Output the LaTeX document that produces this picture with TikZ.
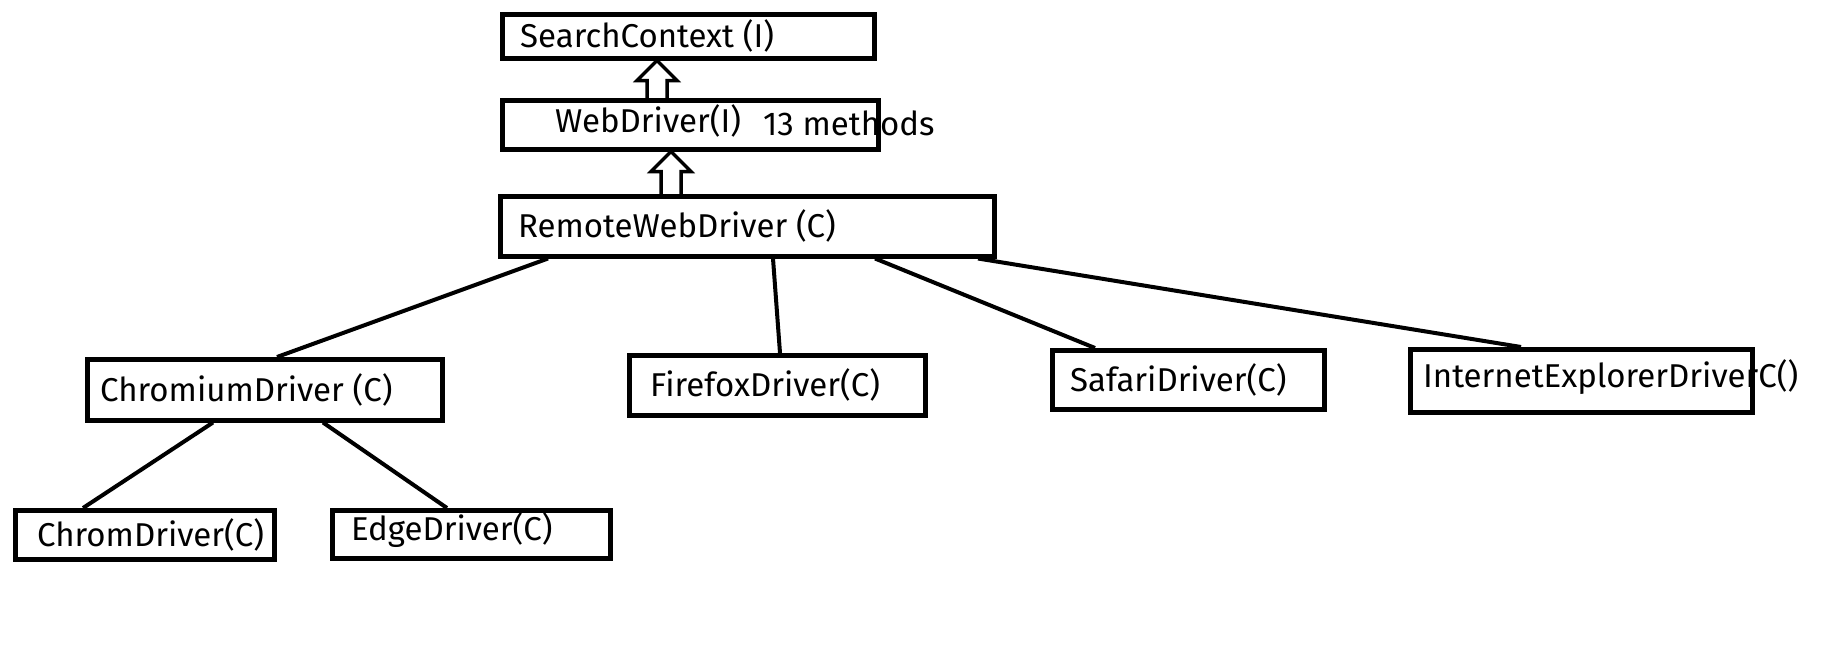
\documentclass[tikz,border=0pt]{standalone}
\usepackage{fontspec}
\setmainfont{Fira Sans}
\usetikzlibrary{positioning, calc}
\tikzstyle{box} = [rectangle, draw=black, line width=4.5pt, anchor=north west, inner sep=0]
\tikzstyle{txt} = [inner sep=0, anchor=west, font=\fontsize{33}{38}\selectfont]
\tikzstyle{line} = [line width=4pt]
\tikzstyle{hollow} = [line width=3.5pt, line join=miter]
% open "inherits" arrow: #1 = base point, #2 = tip point
\newcommand{\hollowarrow}[2]{\draw[hollow] ($(#1)+(-10,0)$) -- ($(#2)+(-10,20)$) -- ($(#2)+(-20,20)$) -- (#2) -- ($(#2)+(20,20)$) -- ($(#2)+(10,20)$) -- ($(#1)+(10,0)$);}
\begin{document}
\begin{tikzpicture}[x=1pt,y=-1pt]
\useasboundingbox (0,0) rectangle (1828,648);

% interfaces and the remote driver
\node[box, minimum width=372pt, minimum height=44pt] (sc) at (500,12) {};
\node[box, minimum width=376pt, minimum height=49pt] (wd) at (500,98) {};
\node[box, minimum width=494pt, minimum height=60pt] (rwd) at (498,194) {};
\node[txt, right=20pt of sc.west] (sct) {SearchContext (I)};
\node[txt, right=55pt of wd.west, yshift=4pt] (wdt) {WebDriver(I)};
\node[txt] (wdm) at (763,123) {13 methods};
\node[txt, right=20pt of rwd.west] (rwdt) {RemoteWebDriver (C)};

% browser drivers
\node[box, minimum width=355pt, minimum height=61pt] (chm) at (85,357) {};
\node[box, minimum width=296pt, minimum height=60pt] (ffx) at (627,353) {};
\node[box, minimum width=272pt, minimum height=59pt] (saf) at (1050,348) {};
\node[box, minimum width=342pt, minimum height=63pt] (ie) at (1408,347) {};
\node[box, minimum width=259pt, minimum height=49pt] (chr) at (13,508) {};
\node[box, minimum width=278pt, minimum height=48pt] (edg) at (330,508) {};
\node[txt, right=15pt of chm.west] (chmt) {ChromiumDriver (C)};
\node[txt, right=23pt of ffx.west] (ffxt) {FirefoxDriver(C)};
\node[txt, right=20pt of saf.west] (saft) {SafariDriver(C)};
\node[txt, right=15pt of ie.west, yshift=4pt] (iet) {InternetExplorerDriverC()};
\node[txt, right=24pt of chr.west] (chrt) {ChromDriver(C)};
\node[txt, right=21pt of edg.west, yshift=4pt] (edgt) {EdgeDriver(C)};

% inheritance arrows
\path ([xshift=157pt]wd.north west) coordinate (a1) (a1 |- sc.south) coordinate (a1t);
\path ([xshift=173pt]rwd.north west) coordinate (a2) (a2 |- wd.south) coordinate (a2t);
\hollowarrow{a1}{a1t}
\hollowarrow{a2}{a2t}

% plain links
\draw[line] ([xshift=50pt]rwd.south west) -- ([xshift=192pt]chm.north west);
\draw[line] ([xshift=275pt]rwd.south west) -- ([xshift=153pt]ffx.north west);
\draw[line] ([xshift=377pt]rwd.south west) -- ([xshift=45pt]saf.north west);
\draw[line] ([xshift=480pt]rwd.south west) -- ([xshift=113pt]ie.north west);
\draw[line] ([xshift=128pt]chm.south west) -- ([xshift=70pt]chr.north west);
\draw[line] ([xshift=238pt]chm.south west) -- ([xshift=117pt]edg.north west);
\end{tikzpicture}
\end{document}
